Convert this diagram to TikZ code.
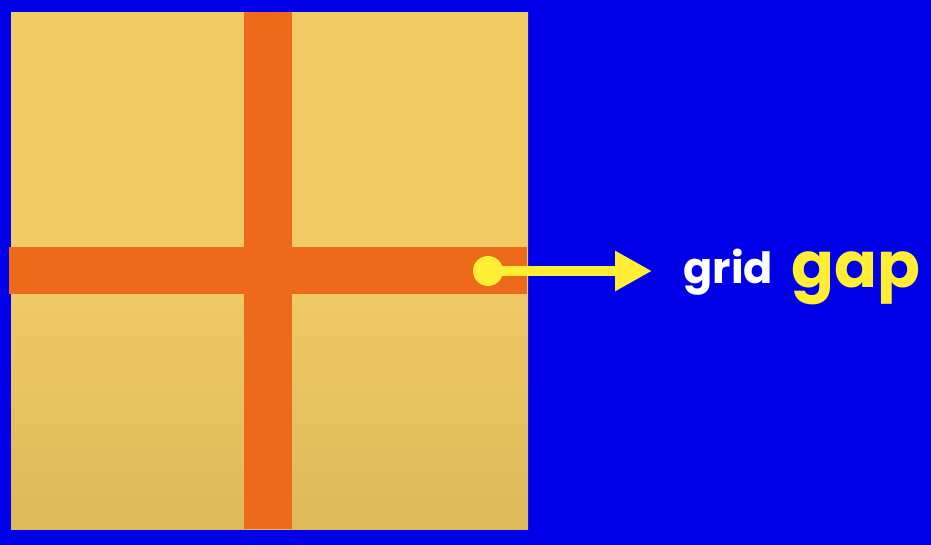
\documentclass[tikz,border=0pt]{standalone}
\usepackage{fontspec}
\setmainfont{Poppins}
\usepackage{tikz}
\usetikzlibrary{arrows.meta, positioning}

\definecolor{sfondoBlu}{HTML}{0000E8}
\definecolor{gialloCella}{HTML}{F2CB66}
\definecolor{gialloScuro}{HTML}{DDB95A}
\definecolor{arancioGap}{HTML}{EC6A1A}
\definecolor{gialloFreccia}{HTML}{FFEE33}

\begin{document}
\begin{tikzpicture}[x=0.02cm, y=-0.02cm,
    puntino/.style={circle, fill=gialloFreccia, inner sep=0pt, minimum size=0.6cm},
    freccia/.style={gialloFreccia, line width=6.2pt, -{Triangle[length=21pt, width=21.5pt]}},
    etichetta/.style={inner sep=0pt, font=\bfseries}
]

    % ==========================================
    % 1. SFONDO
    % ==========================================
    \fill[sfondoBlu] (0,0) rectangle (931,545);
    \useasboundingbox (0,0) rectangle (931,545);

    % ==========================================
    % 2. GRIGLIA (QUADRATO + GAP)
    % ==========================================
    \shade[top color=gialloCella, bottom color=gialloScuro, middle color=gialloCella]
        (11,12) rectangle (528,529);

    % gap verticale e orizzontale
    \fill[arancioGap] (244,12) rectangle (292,529);
    \fill[arancioGap] (9,247) rectangle (527,294);

    % ==========================================
    % 3. FRECCIA E TESTO
    % ==========================================
    \node[puntino] (puntoGap) at (488,271) {};
    \coordinate (puntaFreccia) at (652,271);
    \draw[freccia] (puntoGap.center) -- (puntaFreccia);

    \node[etichetta, anchor=base west, text=white, font=\bfseries\fontsize{24.5}{24.5}\selectfont]
        (testoGrid) at (683,283) {grid};
    \node[etichetta, anchor=base west, text=gialloFreccia, font=\bfseries\fontsize{36}{36}\selectfont]
        (testoGap) at (791,287) {gap};

\end{tikzpicture}
\end{document}
